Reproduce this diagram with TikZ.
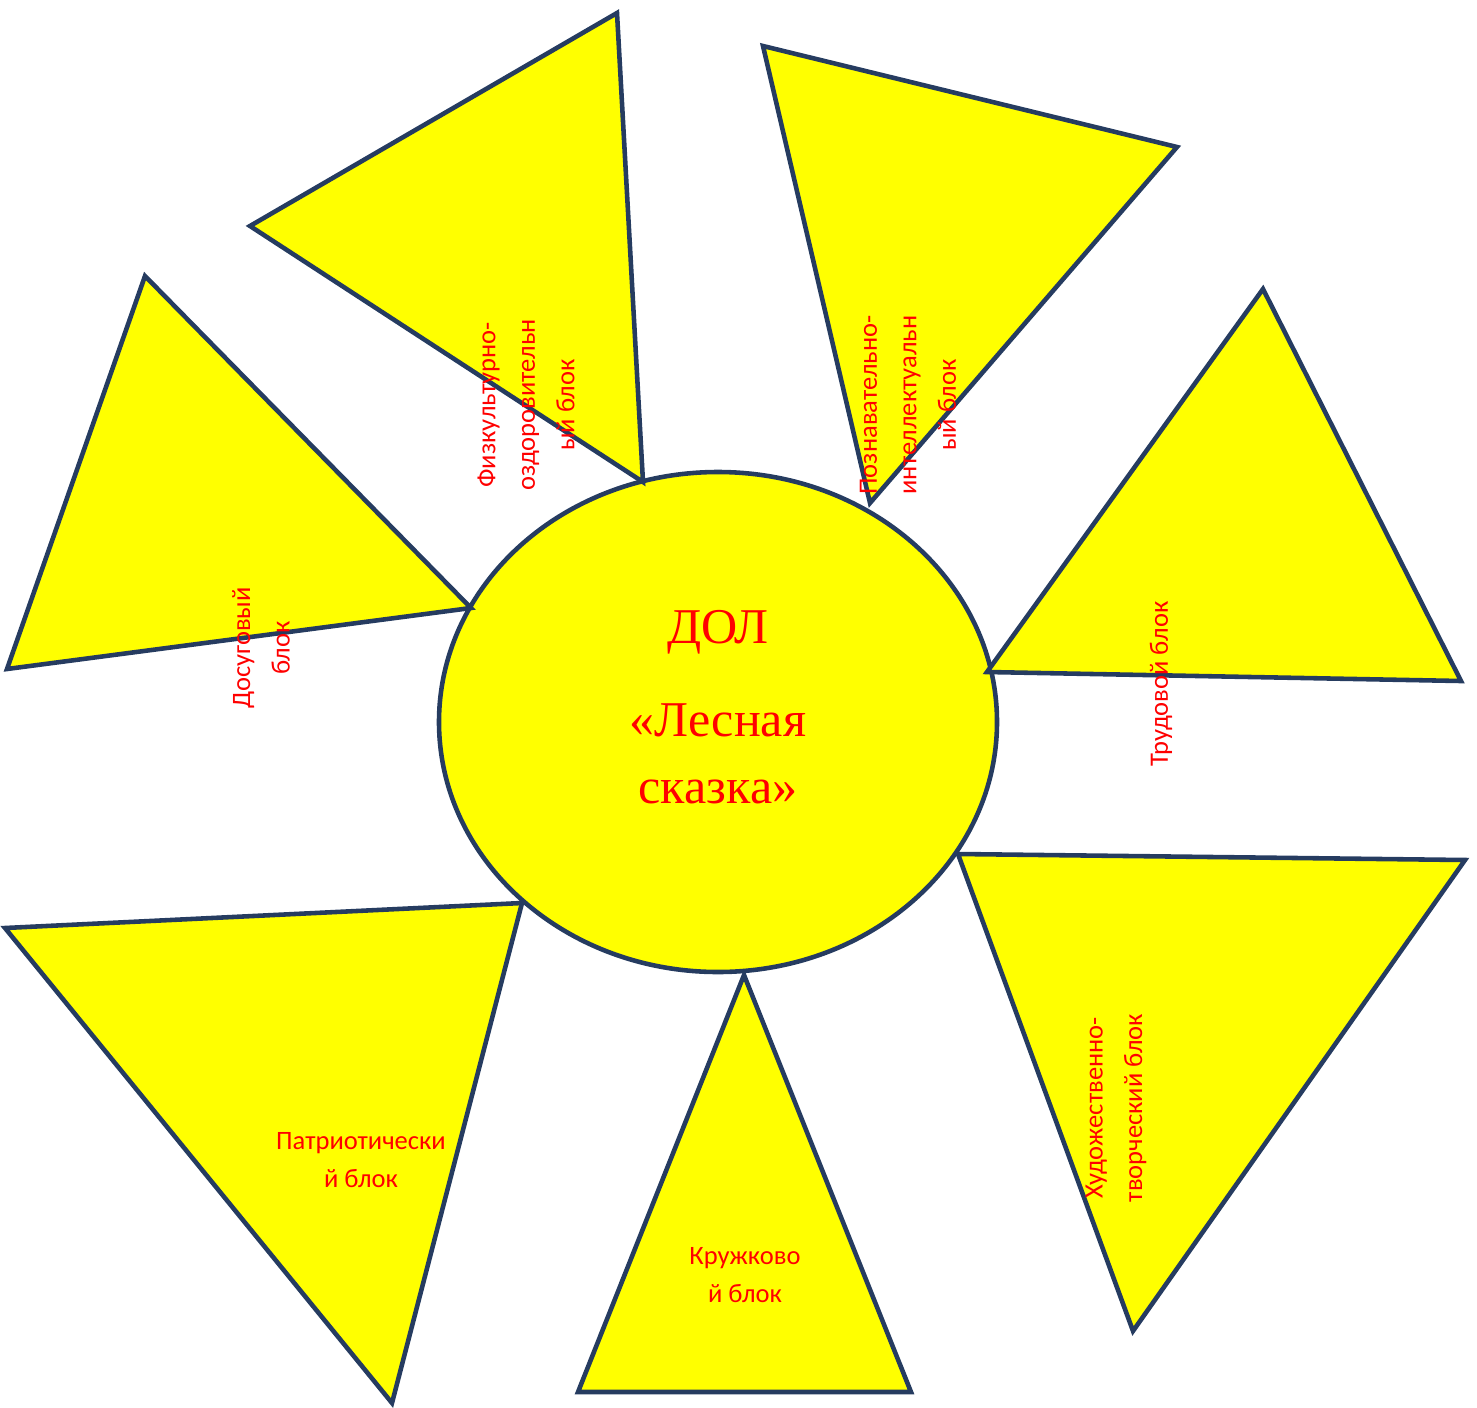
\documentclass[tikz,border=0pt]{standalone}
\usepackage{fontspec}
\setmainfont{Carlito}
\newfontfamily\serifcenter{Liberation Serif}
\definecolor{edgeblue}{RGB}{38,60,96}
\definecolor{sunyellow}{RGB}{255,255,0}
\definecolor{labelred}{RGB}{255,0,0}
\begin{document}
\begin{tikzpicture}[x=0.02cm,y=-0.02cm,
  petal/.style={draw=edgeblue,fill=sunyellow,line width=2.6pt,line join=miter},
  lbl/.style={text=labelred,font=\fontsize{15.1}{22.5}\selectfont,align=center,inner sep=0pt},
  lblh/.style={text=labelred,font=\fontsize{15.1}{21.6}\selectfont,align=center,inner sep=0pt},
  centertxt/.style={text=labelred,font=\serifcenter\fontsize{28.5}{37.6}\selectfont,align=center,inner sep=0pt}]
\useasboundingbox (0,0) rectangle (1477,1407);
% centre
\draw[petal] (718,722) ellipse [x radius=279, y radius=250];
\node[coordinate] (c) at (718,722) {};
% petals
\draw[petal] (617,13) -- (250,226) -- (643,482) -- cycle;
\draw[petal] (763,46) -- (1177,147) -- (870,503) -- cycle;
\draw[petal] (145,276) -- (7,669) -- (471,608) -- cycle;
\draw[petal] (1263,289) -- (987,672) -- (1461,681) -- cycle;
\draw[petal] (5,928) -- (522,903) -- (392,1403) -- cycle;
\draw[petal] (744,975) -- (578,1392) -- (911,1392) -- cycle;
\draw[petal] (958,854) -- (1465,860) -- (1133,1331) -- cycle;
% centre text
\node[centertxt,anchor=base] (dol) at (718,643) {ДОЛ};
\node[centertxt,anchor=base] (name) at (718,803) {«Лесная\\сказка»};
% labels
\node[lbl,rotate=90] (fiz) at (526,405) {Физкультурно-\\оздоровительн\\ый блок};
\node[lbl,rotate=90] (poz) at (908,405) {Познавательно-\\интеллектуальн\\ый блок};
\node[lbl,rotate=90] (dos) at (261,648) {Досуговый\\блок};
\node[lbl,rotate=90] (trud) at (1161,684) {Трудовой блок};
\node[lbl,rotate=90] (hud) at (1116,1108) {Художественно-\\творческий блок};
\node[lblh] (pat) at (361,1160) {Патриотически\\й блок};
\node[lblh] (kruzh) at (745,1275) {Кружково\\й блок};
\end{tikzpicture}
\end{document}
